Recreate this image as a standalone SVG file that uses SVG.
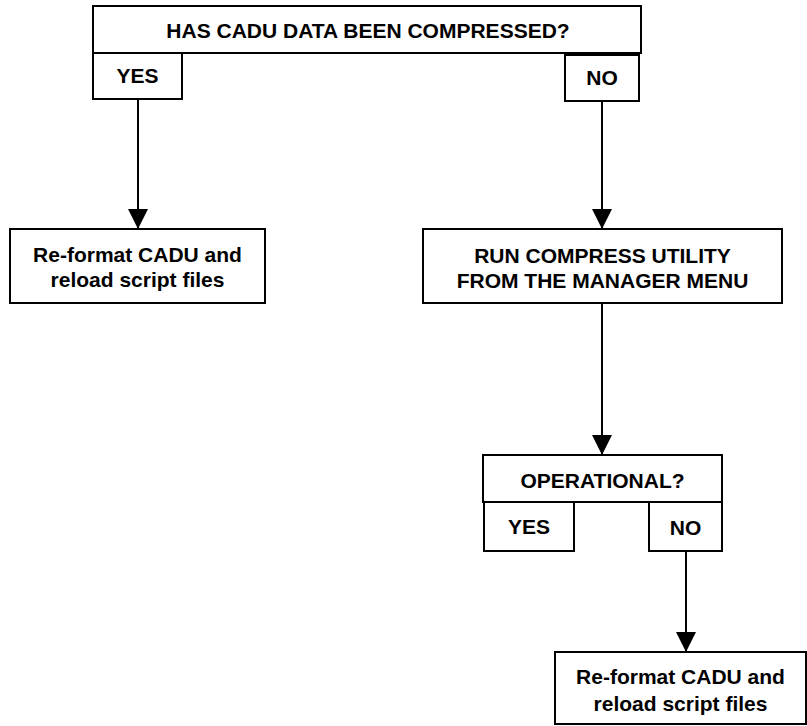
<svg xmlns="http://www.w3.org/2000/svg" width="807" height="726" viewBox="0 0 807 726">
<style>
  .box { fill: #ffffff; stroke: #000000; stroke-width: 2; }
  .t { font-family: "Liberation Sans", Arial, sans-serif; font-weight: bold; font-size: 21px; fill: #000000; text-anchor: middle; }
  .conn { stroke: #000000; stroke-width: 2; fill: none; }
</style>
<defs>
  <marker id="arrow" markerUnits="userSpaceOnUse" markerWidth="20" markerHeight="20" refX="20" refY="10" orient="auto" viewBox="0 0 20 20">
    <path d="M0,0 L20,10 L0,20 Z" fill="#000000"/>
  </marker>
</defs>
<rect width="807" height="726" fill="#ffffff"/>
<g id="connectors">
  <line class="conn" x1="138" y1="99" x2="138" y2="229" marker-end="url(#arrow)"/>
  <line class="conn" x1="602" y1="101" x2="602" y2="229" marker-end="url(#arrow)"/>
  <line class="conn" x1="602" y1="303" x2="602" y2="455" marker-end="url(#arrow)"/>
  <line class="conn" x1="686" y1="551" x2="686" y2="652" marker-end="url(#arrow)"/>
</g>
<g id="q1">
  <rect class="box" x="93" y="6" width="548" height="47"/>
  <text class="t" x="368" y="38">HAS CADU DATA BEEN COMPRESSED?</text>
</g>
<g id="q1-yes">
  <rect class="box" x="93" y="53" width="89" height="46"/>
  <text class="t" x="137.5" y="83">YES</text>
</g>
<g id="q1-no">
  <rect class="box" x="565" y="55" width="74" height="46"/>
  <text class="t" x="602" y="85">NO</text>
</g>
<g id="reformat1">
  <rect class="box" x="10" y="229" width="255" height="74"/>
  <text class="t" x="137.5" y="262">Re-format CADU and</text>
  <text class="t" x="137.5" y="287">reload script files</text>
</g>
<g id="compress">
  <rect class="box" x="423" y="229" width="359" height="74"/>
  <text class="t" x="602.5" y="263">RUN COMPRESS UTILITY</text>
  <text class="t" x="602.5" y="288">FROM THE MANAGER MENU</text>
</g>
<g id="q2">
  <rect class="box" x="483" y="455" width="239" height="47"/>
  <text class="t" x="602.5" y="488">OPERATIONAL?</text>
</g>
<g id="q2-yes">
  <rect class="box" x="484" y="502" width="90" height="49"/>
  <text class="t" x="529" y="534">YES</text>
</g>
<g id="q2-no">
  <rect class="box" x="649" y="502" width="73" height="49"/>
  <text class="t" x="685.5" y="535">NO</text>
</g>
<g id="reformat2">
  <rect class="box" x="555" y="652" width="251" height="72"/>
  <text class="t" x="680.5" y="684">Re-format CADU and</text>
  <text class="t" x="680.5" y="711">reload script files</text>
</g>
</svg>
